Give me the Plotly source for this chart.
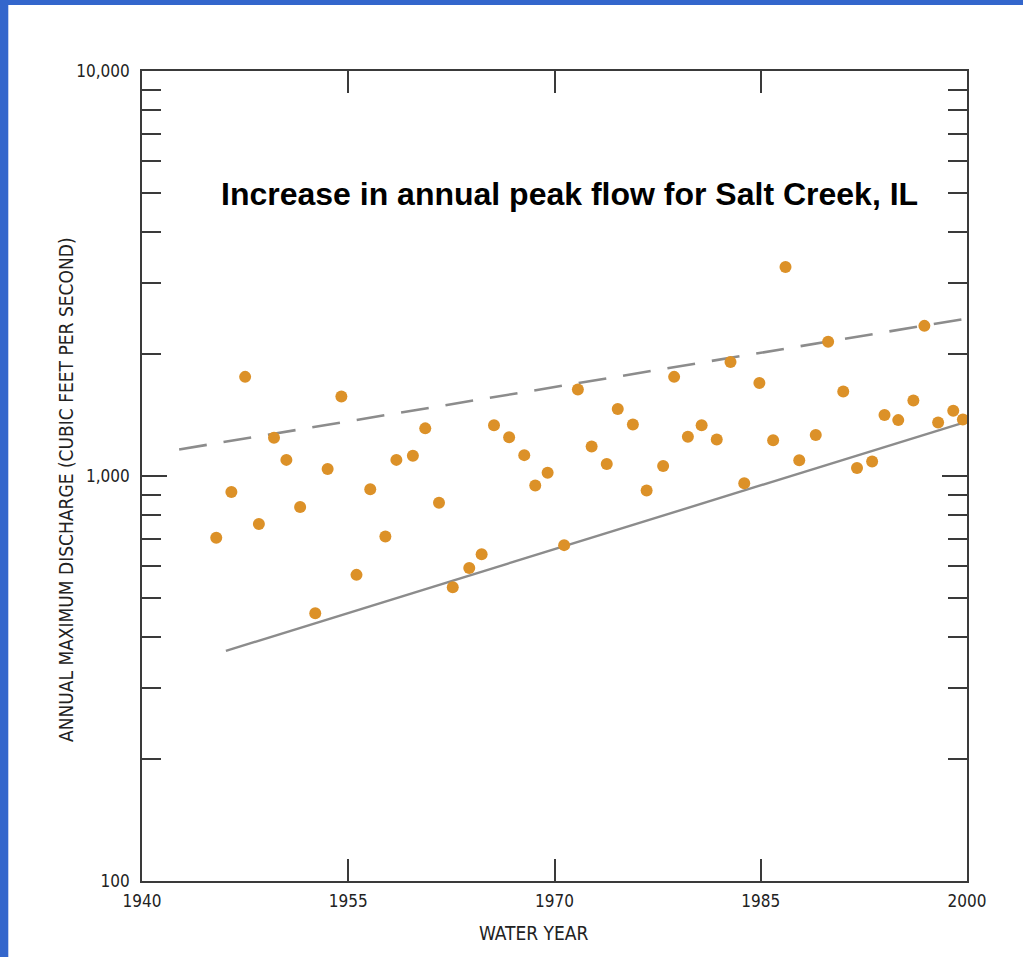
import plotly.graph_objects as go

# ---- data ----
years = [1945.4, 1946.5, 1947.5, 1948.5, 1949.6, 1950.5, 1951.5, 1952.6, 1953.5, 1954.5,
         1955.6, 1956.6, 1957.7, 1958.5, 1959.7, 1960.6, 1961.6, 1962.6, 1963.8, 1964.7,
         1965.6, 1966.7, 1967.8, 1968.6, 1969.5, 1970.7, 1971.7, 1972.7, 1973.8, 1974.6,
         1975.7, 1976.7, 1977.9, 1978.7, 1979.7, 1980.7, 1981.8, 1982.8, 1983.8, 1984.9,
         1985.9, 1986.8, 1987.8, 1989.0, 1989.9, 1991.0, 1992.0, 1993.1, 1994.0, 1995.0,
         1996.1, 1996.9, 1997.9, 1999.0, 1999.7]
peaks = [704, 913, 1757, 761, 1243, 1096, 838, 458, 1040, 1572,
         570, 928, 709, 1096, 1122, 1311, 859, 531, 593, 641,
         1335, 1247, 1126, 948, 1018, 675, 1636, 1183, 1070, 1463,
         1341, 921, 1058, 1757, 1250, 1335, 1231, 1912, 959, 1696,
         1226, 3283, 1094, 1262, 2144, 1617, 1046, 1086, 1414, 1374,
         1537, 2348, 1356, 1449, 1379]

upper_years = [1942.7, 1999.7]
upper_vals = [1163, 2439]
lower_years = [1946.1, 1999.7]
lower_vals = [370, 1353]

x_ticks = [1940, 1955, 1970, 1985, 2000]
y_ticks = [100, 200, 300, 400, 500, 600, 700, 800, 900,
           1000, 2000, 3000, 4000, 5000, 6000, 7000, 8000, 9000, 10000]
y_labels = {100: "100", 1000: "1,000", 10000: "10,000"}

title_text = "Increase in annual peak flow for Salt Creek, IL"
x_title = "WATER YEAR"
y_title = "ANNUAL MAXIMUM DISCHARGE (CUBIC FEET PER SECOND)"

# ---- layout constants ----
W, H = 1023, 957
L, R, T, B = 142, 56, 71, 76
PW, PH = W - L - R, H - T - B
def px_x(p):
    return (p - L) / PW
def px_y(p):
    return 1 - (p - T) / PH

narrow = "Liberation Sans Narrow, DejaVu Sans Condensed, Arial Narrow, sans-serif"
axis_col = "#3a3a3a"

fig = go.Figure()
fig.add_trace(go.Scatter(x=upper_years, y=upper_vals, mode="lines",
                         line=dict(color="#8c8c8c", width=2.6, dash="28px,17px"),
                         hoverinfo="skip", showlegend=False))
fig.add_trace(go.Scatter(x=lower_years, y=lower_vals, mode="lines",
                         line=dict(color="#8c8c8c", width=2.4),
                         hoverinfo="skip", showlegend=False))
fig.add_trace(go.Scatter(x=years, y=peaks, mode="markers",
                         marker=dict(color="#DC9128", size=12, line=dict(width=0)),
                         showlegend=False))
# invisible trace for the overlay axis
fig.add_trace(go.Scatter(x=[1950], y=[1000], yaxis="y2", mode="markers",
                         marker=dict(opacity=0), hoverinfo="skip", showlegend=False))

fig.update_layout(
    width=W, height=H,
    margin=dict(l=L, r=R, t=T, b=B),
    paper_bgcolor="white", plot_bgcolor="white",
    xaxis=dict(range=[1940, 2000], tickvals=x_ticks, ticktext=[str(v) for v in x_ticks],
               ticks="inside", ticklen=22, tickwidth=1.5, tickcolor=axis_col,
               showline=True, linecolor=axis_col, linewidth=1.6, mirror="ticks",
               showgrid=False, zeroline=False, ticklabelstandoff=4,
               tickfont=dict(family=narrow, size=17, color="#222")),
    yaxis=dict(type="log", range=[2, 4], tickvals=y_ticks,
               ticktext=[y_labels.get(v, "") for v in y_ticks],
               ticks="inside", ticklen=19, tickwidth=1.5, tickcolor=axis_col,
               showline=True, linecolor=axis_col, linewidth=1.6, mirror="ticks",
               showgrid=False, zeroline=False, ticklabelstandoff=7,
               tickfont=dict(family=narrow, size=17, color="#222")),
    yaxis2=dict(type="log", range=[2, 4], overlaying="y", side="left",
                tickvals=[1000], ticks="inside", ticklen=25, tickwidth=1.5,
                tickcolor=axis_col, mirror="ticks", showline=False,
                showticklabels=False, showgrid=False, zeroline=False),
    annotations=[
        dict(text=title_text, xref="paper", yref="paper", x=px_x(569), y=px_y(194),
             showarrow=False, xanchor="center", yanchor="middle",
             font=dict(family="Liberation Sans, Arial, sans-serif", size=32, color="black",
                       weight="bold")),
        dict(text=x_title, xref="paper", yref="paper", x=px_x(534), y=px_y(933),
             showarrow=False, xanchor="center", yanchor="middle",
             font=dict(family=narrow, size=19, color="#222")),
        dict(text=y_title, xref="paper", yref="paper", x=px_x(66), y=px_y(490),
             showarrow=False, xanchor="center", yanchor="middle", textangle=-90,
             font=dict(family=narrow, size=19, color="#222")),
    ],
    shapes=[
        dict(type="rect", xref="paper", yref="paper", x0=px_x(0), x1=px_x(8.3),
             y0=px_y(H), y1=px_y(0), fillcolor="#3366CC", line=dict(width=0), layer="above"),
        dict(type="rect", xref="paper", yref="paper", x0=px_x(0), x1=px_x(W),
             y0=px_y(5), y1=px_y(0), fillcolor="#3366CC", line=dict(width=0), layer="above"),
    ],
)

fig.write_html("out.html", config={"displayModeBar": False},
               post_script="document.body.style.margin='0px';")
